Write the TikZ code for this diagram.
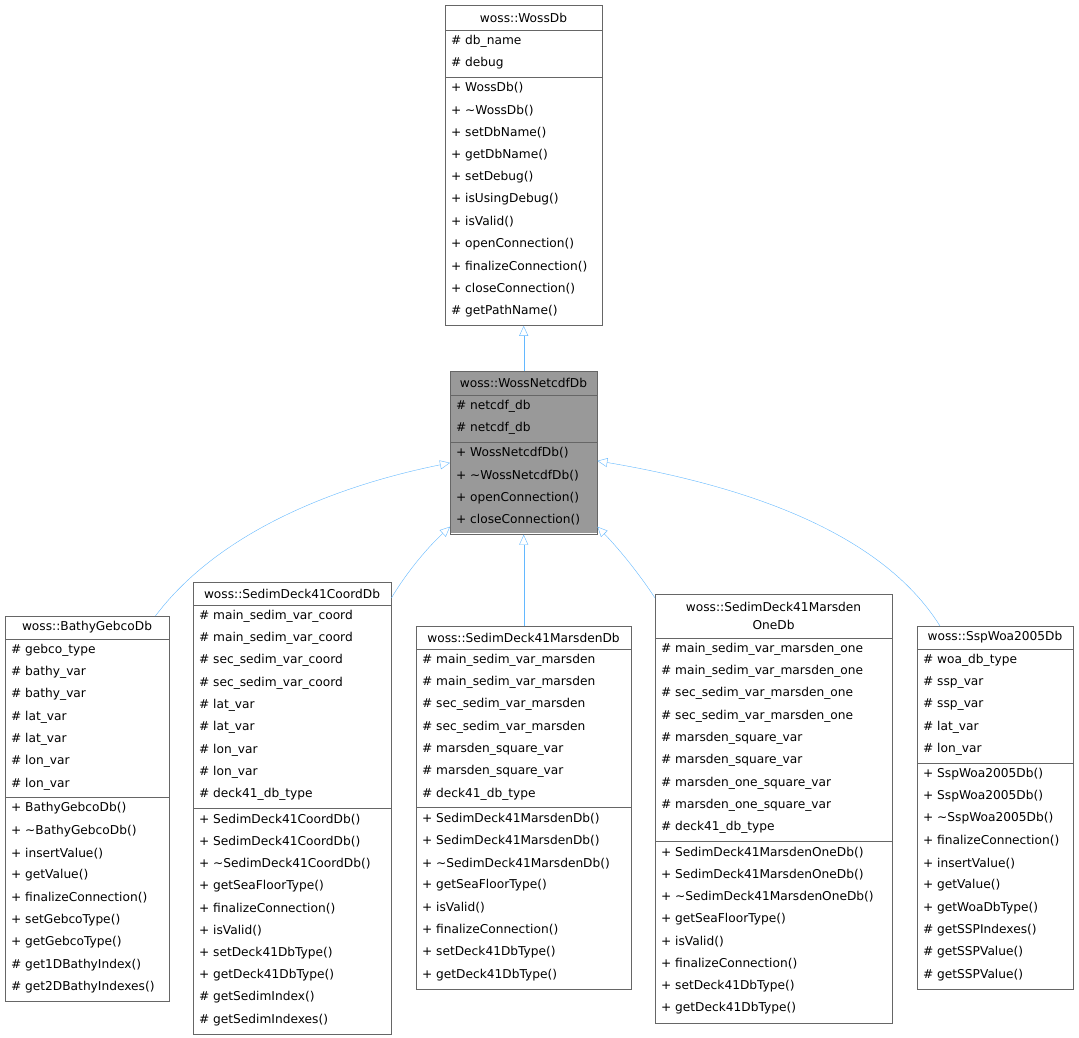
\documentclass[tikz,border=0pt]{standalone}
\usepackage{fontspec}
\setmainfont{DejaVu Sans}
\usetikzlibrary{calc, arrows.meta}
\definecolor{boxline}{HTML}{666666}
\definecolor{linkblue}{HTML}{63B8FF}
\definecolor{basefill}{HTML}{999999}
\newcommand\tl{\textasciitilde}
\tikzset{
    member/.style={anchor=west, inner sep=0pt, font=\fontsize{12.2}{14}\selectfont},
    title/.style={align=center, inner sep=0pt, font=\fontsize{12.2}{18}\selectfont},
    inherit/.style={draw=linkblue, -{Triangle[open, length=10pt, width=9pt, fill=white]}}
}
% #1 fill, #2 name, #3 x, #4 y, #5 width, #6 title height, #7 title, #8 attributes, #9 methods
\newcommand\classbox[9][white]{%
    \fill[#1] (#3,#4) rectangle ++(#5,\fpeval{#6+4});
    \xdef\cy{\fpeval{#4+#6}}
    \foreach \m/\t in {#8} {
        \node[member] at (#3+6,\cy+11) {\makebox[14pt][l]{\m}\t};
        \xdef\cy{\fpeval{\cy+22.3}}
    }
    \xdef\cy{\fpeval{\cy+2.5}}
    \xdef\sepy{\cy}
    \foreach \m/\t in {#9} {
        \node[member] at (#3+6,\cy+11) {\makebox[14pt][l]{\m}\t};
        \xdef\cy{\fpeval{\cy+22.3}}
    }
    \xdef\cy{\fpeval{\cy+3}}
    \node[draw=boxline, inner sep=0pt, anchor=north west,
        minimum width=#5pt, minimum height=\fpeval{\cy-#4}pt] (#2) at (#3,#4) {};
    \node[title] at (#3+#5/2,#4+#6/2) {#7};
    \draw[boxline] (#3,#4+#6) -- ++(#5,0);
    \draw[boxline] (#3,\sepy) -- ++(#5,0);
}
\begin{document}
\begin{tikzpicture}[x=1pt, y=-1pt]
    \useasboundingbox (0,0) rectangle (1079,1038);

    \classbox{wossdb}{445}{5}{157}{25}{woss::WossDb}
        {\#/db\_name, \#/debug}
        {+/WossDb(), +/\tl WossDb(), +/setDbName(), +/getDbName(), +/setDebug(),
         +/isUsingDebug(), +/isValid(), +/openConnection(), +/finalizeConnection(),
         +/closeConnection(), \#/getPathName()}

    \fill[basefill] (450,371) rectangle (597,533);
    \classbox[basefill]{netcdf}{450}{371}{147}{24}{woss::WossNetcdfDb}
        {\#/netcdf\_db, \#/netcdf\_db}
        {+/WossNetcdfDb(), +/\tl WossNetcdfDb(), +/openConnection(), +/closeConnection()}

    \classbox{bathy}{5}{616}{164}{23}{woss::BathyGebcoDb}
        {\#/gebco\_type, \#/bathy\_var, \#/bathy\_var, \#/lat\_var, \#/lat\_var,
         \#/lon\_var, \#/lon\_var}
        {+/BathyGebcoDb(), +/\tl BathyGebcoDb(), +/insertValue(), +/getValue(),
         +/finalizeConnection(), +/setGebcoType(), +/getGebcoType(),
         \#/get1DBathyIndex(), \#/get2DBathyIndexes()}

    \classbox{coord}{193}{582}{198}{23}{woss::SedimDeck41CoordDb}
        {\#/main\_sedim\_var\_coord, \#/main\_sedim\_var\_coord, \#/sec\_sedim\_var\_coord,
         \#/sec\_sedim\_var\_coord, \#/lat\_var, \#/lat\_var, \#/lon\_var, \#/lon\_var,
         \#/deck41\_db\_type}
        {+/SedimDeck41CoordDb(), +/SedimDeck41CoordDb(), +/\tl SedimDeck41CoordDb(),
         +/getSeaFloorType(), +/finalizeConnection(), +/isValid(), +/setDeck41DbType(),
         +/getDeck41DbType(), \#/getSedimIndex(), \#/getSedimIndexes()}

    \classbox{marsden}{416}{626}{215}{23}{woss::SedimDeck41MarsdenDb}
        {\#/main\_sedim\_var\_marsden, \#/main\_sedim\_var\_marsden,
         \#/sec\_sedim\_var\_marsden, \#/sec\_sedim\_var\_marsden,
         \#/marsden\_square\_var, \#/marsden\_square\_var, \#/deck41\_db\_type}
        {+/SedimDeck41MarsdenDb(), +/SedimDeck41MarsdenDb(), +/\tl SedimDeck41MarsdenDb(),
         +/getSeaFloorType(), +/isValid(), +/finalizeConnection(), +/setDeck41DbType(),
         +/getDeck41DbType()}

    \classbox{marsdenone}{655}{594}{237}{44}{woss::SedimDeck41Marsden\\OneDb}
        {\#/main\_sedim\_var\_marsden\_one, \#/main\_sedim\_var\_marsden\_one,
         \#/sec\_sedim\_var\_marsden\_one, \#/sec\_sedim\_var\_marsden\_one,
         \#/marsden\_square\_var, \#/marsden\_square\_var, \#/marsden\_one\_square\_var,
         \#/marsden\_one\_square\_var, \#/deck41\_db\_type}
        {+/SedimDeck41MarsdenOneDb(), +/SedimDeck41MarsdenOneDb(),
         +/\tl SedimDeck41MarsdenOneDb(), +/getSeaFloorType(), +/isValid(),
         +/finalizeConnection(), +/setDeck41DbType(), +/getDeck41DbType()}

    \classbox{ssp}{917}{626}{156}{23}{woss::SspWoa2005Db}
        {\#/woa\_db\_type, \#/ssp\_var, \#/ssp\_var, \#/lat\_var, \#/lon\_var}
        {+/SspWoa2005Db(), +/SspWoa2005Db(), +/\tl SspWoa2005Db(), +/finalizeConnection(),
         +/insertValue(), +/getValue(), +/getWoaDbType(), \#/getSSPIndexes(),
         \#/getSSPValue(), \#/getSSPValue()}

    % inheritance
    \draw[inherit] (netcdf.north) -- (wossdb.south);
    \draw[inherit] ($(bathy.north east)+(-14,0)$) .. controls (220,530) and (340,485) .. ($(netcdf.west)+(0,10)$);
    \draw[inherit] ($(coord.north east)+(0,16)$) .. controls (405,575) and (425,550) .. ($(netcdf.south west)+(0,-8)$);
    \draw[inherit] (marsden.north) -- (netcdf.south);
    \draw[inherit] ($(marsdenone.north west)+(0,4)$) .. controls (640,575) and (620,550) .. ($(netcdf.south east)+(0,-8)$);
    \draw[inherit] ($(ssp.north west)+(23,0)$) .. controls (880,530) and (740,485) .. ($(netcdf.east)+(0,8)$);
\end{tikzpicture}
\end{document}
